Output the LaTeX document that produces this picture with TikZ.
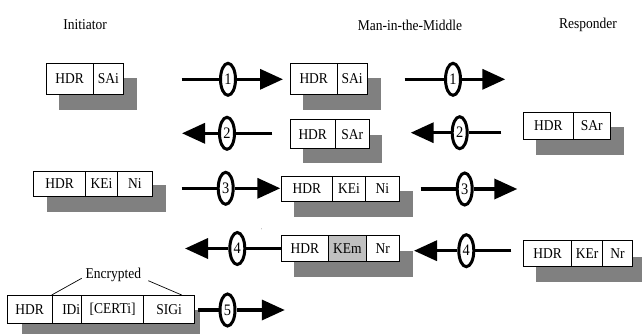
\documentclass[tikz,border=0pt]{standalone}
\usepackage{fontspec}
\setmainfont{Liberation Serif}[FakeStretch=0.9]
\usetikzlibrary{arrows.meta,shapes.geometric}
\definecolor{shadowc}{HTML}{808080}
\definecolor{kemfill}{HTML}{C0C0C0}
\newcommand\bcell[6]{\node[cell,minimum width=#3pt-#2pt,minimum height=#5pt-#4pt] (#1) at (#2,#4) {#6};}
\begin{document}
\begin{tikzpicture}[x=1pt,y=-1pt,
  cell/.style={draw=black,line width=0.8pt,fill=white,inner sep=0pt,anchor=north west,font=\fontsize{15}{16}\selectfont},
  title/.style={font=\fontsize{15}{16}\selectfont,inner sep=0pt},
  shade/.style={fill=shadowc},
  numel/.style={ellipse,draw=black,line width=3pt,fill=white,minimum width=15pt,minimum height=32pt,inner sep=0pt,font=\fontsize{16}{16}\selectfont},
  msgline/.style={line width=3.5pt},
  msgarrow/.style={line width=3.5pt,-{Triangle[length=23pt,width=20pt]}},
  thin/.style={line width=0.7pt}]
\useasboundingbox (0,0) rectangle (642,334);
% titles
\node[title] (tinit) at (85,25) {Initiator};
\node[title] (tmitm) at (410,25) {Man-in-the-Middle};
\node[title] (tresp) at (588,25) {Responder};
% ---------- row 1
\fill[shade] (59,78.3) rectangle (137.3,110);
\bcell{i1hdr}{45.7}{92.7}{63.3}{94}{HDR}
\bcell{i1sai}{92.7}{123.3}{63.3}{94}{SAi}
\fill[shade] (303.3,78.3) rectangle (380.7,110);
\bcell{m1hdr}{290}{336.7}{63.3}{94}{HDR}
\bcell{m1sai}{336.7}{366.7}{63.3}{94}{SAi}
\coordinate (s1a) at (181.7,79.3); \coordinate (t1a) at (283,79.3);
\node[numel] (e1a) at (228,79.3) {1};
\draw[msgline] (s1a) -- (e1a); \draw[msgarrow] (e1a) -- (t1a);
\coordinate (s1b) at (404.7,79.3); \coordinate (t1b) at (505.3,79.3);
\node[numel] (e1b) at (453,79.3) {1};
\draw[msgline] (s1b) -- (e1b); \draw[msgarrow] (e1b) -- (t1b);
% ---------- row 2
\fill[shade] (303,135) rectangle (382,163);
\bcell{m2hdr}{290}{334.7}{119.3}{148.3}{HDR}
\bcell{m2sar}{334.7}{369}{119.3}{148.3}{SAr}
\fill[shade] (536.3,126.7) rectangle (624,155);
\bcell{r2hdr}{523}{573}{111.7}{139.3}{HDR}
\bcell{r2sar}{573}{609.7}{111.7}{139.3}{SAr}
\coordinate (s2a) at (272.3,133.3); \coordinate (t2a) at (182,133.3);
\node[numel] (e2a) at (227,133.3) {2};
\draw[msgline] (s2a) -- (e2a); \draw[msgarrow] (e2a) -- (t2a);
\coordinate (s2b) at (501.3,132.7); \coordinate (t2b) at (410.7,132.7);
\node[numel] (e2b) at (459.7,132.7) {2};
\draw[msgline] (s2b) -- (e2b); \draw[msgarrow] (e2b) -- (t2b);
% ---------- row 3
\fill[shade] (46.7,185) rectangle (166,211.7);
\bcell{i3hdr}{33.3}{85}{170.7}{196}{HDR}
\bcell{i3kei}{85}{117.3}{170.7}{196}{KEi}
\bcell{i3ni}{117.3}{151.7}{170.7}{196}{Ni}
\fill[shade] (294,190.7) rectangle (413.3,216.7);
\bcell{m3hdr}{280.7}{332.3}{175.7}{200.7}{HDR}
\bcell{m3kei}{332.3}{364.7}{175.7}{200.7}{KEi}
\bcell{m3ni}{364.7}{399}{175.7}{200.7}{Ni}
\coordinate (s3a) at (181.7,188.3); \coordinate (t3a) at (280.3,188.3);
\node[numel] (e3a) at (225.7,188.3) {3};
\draw[msgline] (s3a) -- (e3a); \draw[msgarrow] (e3a) -- (t3a);
\coordinate (s3b) at (420.7,189); \coordinate (t3b) at (517.3,189);
\node[numel] (e3b) at (464.7,189) {3};
\draw[msgline] (s3b) -- (e3b); \draw[msgarrow] (e3b) -- (t3b);
% ---------- row 4
\fill[shade] (294,250.7) rectangle (413,277);
\bcell{m4hdr}{280.7}{328.3}{235}{261}{HDR}
\node[cell,fill=kemfill,minimum width=37.4pt,minimum height=26pt] (m4kem) at (328.3,235) {KEm};
\bcell{m4nr}{365.7}{399}{235}{261}{Nr}
\fill[shade] (536.3,256.7) rectangle (642,282);
\bcell{r4hdr}{523}{571.3}{240}{266}{HDR}
\bcell{r4ker}{571.3}{602}{240}{266}{KEr}
\bcell{r4nr}{602}{632}{240}{266}{Nr}
\coordinate (t4a) at (185,248.5);
\node[numel] (e4a) at (237.3,248.5) {4};
\draw[msgline] (m4hdr.west |- e4a) -- (e4a); \draw[msgarrow] (e4a) -- (t4a);
\node[font=\fontsize{6}{6}\selectfont,text=gray,inner sep=0pt] (tick) at (261.7,230.7) {'};
\coordinate (s4b) at (511.3,250.7); \coordinate (t4b) at (414,250.7);
\node[numel] (e4b) at (466.3,250.7) {4};
\draw[msgline] (s4b) -- (e4b); \draw[msgarrow] (e4b) -- (t4b);
% ---------- row 5
\fill[shade] (21.7,310) rectangle (200,334);
\bcell{i5hdr}{6.7}{51.7}{295}{322.7}{HDR}
\bcell{i5idi}{51.7}{81}{295}{322.7}{\hspace*{9pt}IDi}
\bcell{i5cert}{81}{143.3}{295}{322.7}{[CERTi]}
\bcell{i5sig}{143.3}{194}{295}{322.7}{SIGi}
\node[title] (enc) at (113.3,275) {Encrypted};
\coordinate (encl) at (81.7,278.3); \coordinate (encr) at (148.3,280.7);
\coordinate (encre) at (181.7,295);
\draw[thin] (i5idi.north west) -- (encl);
\draw[thin] (encr) -- (encre);
\coordinate (s5) at (198.3,310); \coordinate (t5) at (284.8,310);
\node[numel] (e5) at (227.5,310) {5};
\draw[msgline] (s5) -- (e5); \draw[msgarrow] (e5) -- (t5);
\end{tikzpicture}
\end{document}
